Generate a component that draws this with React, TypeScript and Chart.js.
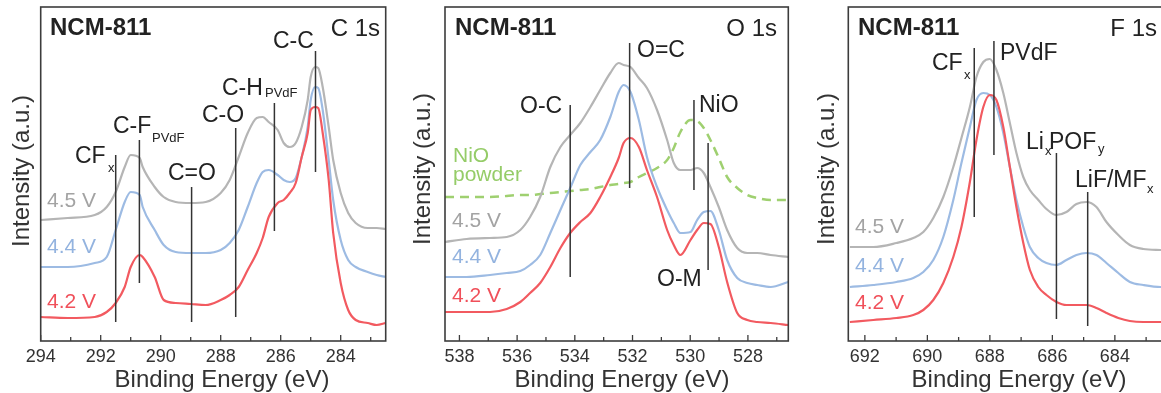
import React, { useEffect, useRef } from "react";
import { Chart, registerables } from "chart.js";

Chart.register(...registerables);

const FONT = '"Liberation Sans", Arial, Helvetica, sans-serif';

// ---------- C 1s ----------
const c1sEnergy = [294.0, 293.1, 292.2, 291.8, 291.5, 291.2, 291.0, 290.7, 290.6, 290.2, 289.9, 289.5, 289.0, 288.5, 288.0, 287.7, 287.4, 287.1, 286.8, 286.6, 286.4, 286.1, 285.9, 285.7, 285.5, 285.3, 285.1, 285.0, 284.85, 284.75, 284.6, 284.4, 284.25, 284.0, 283.75, 283.5, 283.1, 282.8, 282.5];
const c1s45 = [121, 123, 126, 134, 149, 174, 186, 183, 174, 154, 144, 139, 138, 139, 148, 161, 184, 208, 223, 224, 219, 211, 198, 194, 198, 214, 241, 264, 274, 273, 254, 214, 181, 148, 128, 118, 113, 113, 112];
const c1s44 = [74, 74, 78, 84, 111, 139, 149, 146, 134, 111, 96, 89, 88, 88, 91, 98, 111, 134, 158, 169, 171, 166, 161, 159, 163, 184, 214, 241, 254, 253, 231, 181, 141, 101, 81, 74, 69, 66, 64];
const c1s42 = [24, 23, 24, 29, 38, 54, 74, 86, 84, 64, 41, 38, 37, 36, 41, 46, 54, 71, 88, 103, 124, 138, 141, 148, 158, 184, 208, 231, 234, 233, 208, 161, 108, 58, 31, 21, 18, 16, 18];
const c1sTicks = [294, 292, 290, 288, 286, 284];
const c1sMarkerEnergy = [291.5, 290.71, 288.97, 287.5, 286.21, 284.84];
const c1sMarkerTop = [186, 201, 154, 213, 238, 290];
const c1sMarkerBottom = [19, 58, 19, 24, 110, 169];

// ---------- O 1s ----------
const o1sEnergy = [538.5, 537.75, 536.94, 536.36, 535.89, 535.55, 535.2, 534.85, 534.5, 534.16, 533.81, 533.46, 533.12, 532.77, 532.48, 532.31, 532.07, 531.78, 531.5, 531.15, 530.8, 530.57, 530.34, 529.99, 529.76, 529.53, 529.3, 529.01, 528.72, 528.37, 528.02, 527.68, 527.21, 526.6];
const o1s45 = [99, 102, 103, 104, 111, 124, 144, 174, 194, 206, 218, 234, 251, 268, 278, 276, 274, 263, 253, 231, 201, 178, 171, 171, 173, 168, 154, 134, 111, 93, 88, 88, 86, 84];
const o1s44 = [64, 64, 66, 68, 70, 76, 86, 108, 131, 153, 176, 189, 201, 224, 249, 256, 249, 221, 184, 154, 131, 118, 108, 109, 121, 129, 130, 111, 81, 63, 58, 56, 54, 59];
const o1s42 = [29, 29, 29, 32, 39, 48, 58, 74, 93, 108, 119, 128, 144, 164, 183, 198, 203, 194, 171, 144, 111, 96, 86, 101, 111, 118, 117, 94, 59, 28, 21, 19, 18, 16];
const o1sNiOPowder = [144, 144, 144, 145, 146, 146, 147, 148, 149, 150, 151, 152, 154, 156, 157, 158, 159, 164, 168, 173, 181, 193, 209, 221, 220, 213, 201, 183, 164, 153, 146, 143, 141, 141];
const o1sTicks = [538, 536, 534, 532, 530, 528];
const o1sMarkerEnergy = [534.16, 532.1, 529.87, 529.38];
const o1sMarkerTop = [236, 298, 241, 198];
const o1sMarkerBottom = [64, 153, 151, 71];

// ---------- F 1s ----------
const f1sEnergy = [692.48, 691.73, 690.99, 690.45, 690.13, 689.81, 689.49, 689.17, 688.91, 688.64, 688.43, 688.21, 688.0, 687.79, 687.57, 687.36, 687.15, 686.93, 686.72, 686.45, 686.19, 685.87, 685.55, 685.23, 684.91, 684.59, 684.27, 683.89, 683.52, 683.09, 682.53, 681.5];
const f1s45 = [94, 94, 98, 103, 109, 123, 144, 174, 203, 234, 264, 279, 282, 271, 248, 218, 188, 164, 151, 141, 132, 126, 129, 137, 139, 134, 119, 106, 96, 92, 91, 90];
const f1s44 = [54, 56, 59, 63, 69, 81, 104, 141, 178, 214, 241, 248, 246, 234, 208, 174, 141, 114, 94, 83, 78, 76, 81, 86, 88, 86, 78, 68, 59, 56, 54, 54];
const f1s42 = [19, 21, 23, 26, 31, 41, 58, 84, 114, 159, 201, 234, 246, 241, 214, 174, 134, 98, 71, 54, 46, 39, 36, 36, 36, 33, 28, 23, 20, 19, 19, 19];
const f1sTicks = [692, 690, 688, 686, 684, 682];
const f1sMarkerEnergy = [688.5, 687.87, 685.87, 684.87];
const f1sMarkerTop = [293, 300, 188, 149];
const f1sMarkerBottom = [124, 186, 22, 15];

// ---------- styles ----------
const GRAY = "#b5b5b5";
const BLUE = "#9dbbe3";
const RED = "#f25a60";
const GREEN = "#9fd070";
const GRAY_T = "#a3a3a3";
const BLUE_T = "#93b3df";
const RED_T = "#f0505a";
const GREEN_T = "#95cc68";
const INK = "#222222";
const FRAME = "#3c3c3c";

type Piece = { t: string; x: number; y: number; size: number; color?: string; bold?: boolean; align?: CanvasTextAlign };

type Panel = {
  left: number;
  width: number;
  padLeft: number;
  padRight: number;
  min: number;
  max: number;
  ticks: number[];
  energy: number[];
  series: { values: number[]; color: string; dash?: number[] }[];
  markerE: number[];
  markerTop: number[];
  markerBottom: number[];
  texts: Piece[];
  yTitle: [number, number];
  xTitle: [number, number];
};

const voltageLabels = (x: number, y45: number, y44: number, y42: number): Piece[] => [
  { t: "4.5 V", x, y: y45, size: 21, color: GRAY_T },
  { t: "4.4 V", x, y: y44, size: 21, color: BLUE_T },
  { t: "4.2 V", x, y: y42, size: 21, color: RED_T },
];

const panels: Panel[] = [
  {
    left: 0, width: 390, padLeft: 40.7, padRight: 4.3, min: 282.5, max: 294, ticks: c1sTicks,
    energy: c1sEnergy,
    series: [{ values: c1s42, color: RED }, { values: c1s44, color: BLUE }, { values: c1s45, color: GRAY }],
    markerE: c1sMarkerEnergy, markerTop: c1sMarkerTop, markerBottom: c1sMarkerBottom,
    texts: [
      { t: "NCM-811", x: 50, y: 35, size: 24, bold: true },
      { t: "C 1s", x: 380, y: 36, size: 24, align: "right" },
      { t: "C-C", x: 273, y: 48, size: 23 },
      { t: "C-H", x: 222, y: 95, size: 23 },
      { t: "PVdF", x: 265, y: 97, size: 13 },
      { t: "C-O", x: 202, y: 122, size: 23 },
      { t: "C-F", x: 113, y: 133, size: 23 },
      { t: "PVdF", x: 152, y: 142, size: 13 },
      { t: "CF", x: 75, y: 163, size: 23 },
      { t: "x", x: 108, y: 172, size: 13 },
      { t: "C=O", x: 168, y: 180, size: 23 },
      ...voltageLabels(47, 207, 253, 308),
    ],
    yTitle: [22, 171], xTitle: [222, 380],
  },
  {
    left: 390, width: 400, padLeft: 55, padRight: 1.7, min: 526.6, max: 538.5, ticks: o1sTicks,
    energy: o1sEnergy,
    series: [{ values: o1s42, color: RED }, { values: o1s44, color: BLUE }, { values: o1s45, color: GRAY }, { values: o1sNiOPowder, color: GREEN, dash: [9, 6] }],
    markerE: o1sMarkerEnergy, markerTop: o1sMarkerTop, markerBottom: o1sMarkerBottom,
    texts: [
      { t: "NCM-811", x: 65, y: 35, size: 24, bold: true },
      { t: "O 1s", x: 387, y: 36, size: 24, align: "right" },
      { t: "O=C", x: 247, y: 57, size: 23 },
      { t: "O-C", x: 130, y: 113, size: 23 },
      { t: "NiO", x: 309, y: 112, size: 23 },
      { t: "O-M", x: 267, y: 286, size: 23 },
      { t: "NiO", x: 63, y: 162, size: 21, color: GREEN_T },
      { t: "powder", x: 63, y: 181, size: 21, color: GREEN_T },
      ...voltageLabels(62, 227, 263, 302),
    ],
    yTitle: [33, 169], xTitle: [232, 380],
  },
  {
    left: 790, width: 420, padLeft: 58.3, padRight: 17, min: 681.5, max: 692.53, ticks: f1sTicks,
    energy: f1sEnergy,
    series: [{ values: f1s42, color: RED }, { values: f1s44, color: BLUE }, { values: f1s45, color: GRAY }],
    markerE: f1sMarkerEnergy, markerTop: f1sMarkerTop, markerBottom: f1sMarkerBottom,
    texts: [
      { t: "NCM-811", x: 68, y: 35, size: 24, bold: true },
      { t: "F 1s", x: 367, y: 36, size: 24, align: "right" },
      { t: "CF", x: 142, y: 70, size: 23 },
      { t: "x", x: 174, y: 79, size: 13 },
      { t: "PVdF", x: 210, y: 60, size: 23 },
      { t: "Li", x: 236, y: 149, size: 23 },
      { t: "x", x: 255, y: 155, size: 13 },
      { t: "POF", x: 259, y: 149, size: 23 },
      { t: "y", x: 308, y: 153, size: 13 },
      { t: "LiF/MF", x: 285, y: 187, size: 23 },
      { t: "x", x: 357, y: 193, size: 13 },
      ...voltageLabels(65, 233, 272, 309),
    ],
    yTitle: [37, 169], xTitle: [229, 380],
  },
];

function buildChart(canvas: HTMLCanvasElement, p: Panel) {
  const datasets: any[] = [];
  p.markerE.forEach((e, i) => {
    datasets.push({
      data: [{ x: e, y: p.markerTop[i] }, { x: e, y: p.markerBottom[i] }],
      borderColor: "#333333",
      borderWidth: 1.5,
      pointRadius: 0,
      tension: 0,
    });
  });
  p.series.forEach((s) => {
    datasets.push({
      data: p.energy.map((e, i) => ({ x: e, y: s.values[i] })),
      borderColor: s.color,
      borderWidth: s.dash ? 2.5 : 2.2,
      borderDash: s.dash || [],
      pointRadius: 0,
      cubicInterpolationMode: "monotone",
    });
  });

  const decor = {
    id: "decor",
    afterDraw(chart: any) {
      const ctx = chart.ctx as CanvasRenderingContext2D;
      const a = chart.chartArea;
      const xs = chart.scales.x;
      ctx.save();
      // frame
      ctx.strokeStyle = FRAME;
      ctx.lineWidth = 1.6;
      ctx.strokeRect(a.left, a.top, a.right - a.left, a.bottom - a.top);
      // inward ticks
      ctx.lineWidth = 1.3;
      for (let v = Math.ceil(p.min); v <= Math.floor(p.max); v++) {
        const x = xs.getPixelForValue(v);
        const len = v % 2 === 0 ? 6 : 4;
        ctx.beginPath();
        ctx.moveTo(x, a.bottom);
        ctx.lineTo(x, a.bottom - len);
        ctx.stroke();
      }
      // texts
      ctx.textBaseline = "alphabetic";
      for (const t of p.texts) {
        ctx.font = `${t.bold ? "bold " : ""}${t.size}px ${FONT}`;
        ctx.fillStyle = t.color || INK;
        ctx.textAlign = t.align || "left";
        ctx.fillText(t.t, t.x, t.y);
      }
      // axis titles
      ctx.font = `24px ${FONT}`;
      ctx.fillStyle = "#333333";
      ctx.textAlign = "center";
      ctx.textBaseline = "middle";
      ctx.fillText("Binding Energy (eV)", p.xTitle[0], p.xTitle[1]);
      ctx.translate(p.yTitle[0], p.yTitle[1]);
      ctx.rotate(-Math.PI / 2);
      ctx.fillText("Intensity (a.u.)", 0, 0);
      ctx.restore();
    },
  };

  return new Chart(canvas, {
    type: "line",
    data: { datasets },
    options: {
      animation: false,
      responsive: false,
      devicePixelRatio: 1,
      layout: { padding: { left: p.padLeft, right: p.padRight, top: 7, bottom: 0 } },
      plugins: { legend: { display: false }, tooltip: { enabled: false } },
      scales: {
        x: {
          type: "linear",
          reverse: true,
          min: p.min,
          max: p.max,
          grid: { display: false, drawTicks: false },
          border: { display: false },
          ticks: { font: { family: FONT, size: 18 }, color: "#333333", padding: 5, maxRotation: 0, autoSkip: false },
          afterBuildTicks: (s: any) => {
            s.ticks = p.ticks.map((v) => ({ value: v }));
          },
          afterFit: (s: any) => {
            s.height = 52;
          },
        },
        y: { display: false, min: 0, max: 334 },
      },
    } as any,
    plugins: [decor],
  });
}

function PanelCanvas({ panel }: { panel: Panel }) {
  const ref = useRef<HTMLCanvasElement>(null);
  useEffect(() => {
    if (!ref.current) return;
    const c = buildChart(ref.current, panel);
    return () => c.destroy();
  }, [panel]);
  return (
    <canvas
      ref={ref}
      width={panel.width}
      height={393}
      style={{ position: "absolute", left: panel.left, top: 0, width: panel.width, height: 393 }}
    />
  );
}

export default function App() {
  return (
    <div style={{ position: "absolute", left: 0, top: 0, width: 1161, height: 393, overflow: "hidden", background: "#ffffff" }}>
      {panels.map((p, i) => (
        <PanelCanvas key={i} panel={p} />
      ))}
    </div>
  );
}
